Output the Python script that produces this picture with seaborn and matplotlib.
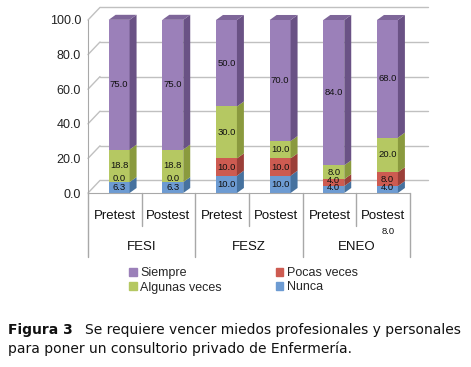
import matplotlib
matplotlib.use("Agg")
import matplotlib.pyplot as plt
from matplotlib.patches import Polygon
import seaborn as sns
import pandas as pd
import numpy as np

# Data
groups = ["FESI", "FESZ", "ENEO"]
tests = ["Pretest", "Postest"]
nunca = [6.3, 6.3, 10.0, 10.0, 4.0, 4.0]
pocas = [0.0, 0.0, 10.0, 10.0, 4.0, 8.0]
algunas = [18.8, 18.8, 30.0, 10.0, 8.0, 20.0]
siempre = [75.0, 75.0, 50.0, 70.0, 84.0, 68.0]
series_names = ["Nunca", "Pocas veces", "Algunas veces", "Siempre"]
front_colors = ["#6d9bd2", "#cd5b51", "#b5c862", "#9b80b9"]
side_colors = ["#46729f", "#9b3f38", "#8a9a3e", "#6a5285"]
top_color = "#7e6699"
yticks = [0, 20, 40, 60, 80, 100]

bars = [f"{g} {t}" for g in groups for t in tests]
df = pd.DataFrame({"bar": bars, "Nunca": nunca, "Pocas veces": pocas,
                   "Algunas veces": algunas, "Siempre": siempre})
cum = df[series_names].cumsum(axis=1)

sns.set_style("white")
plt.rcParams["font.family"] = ["Liberation Sans", "DejaVu Sans"]

W, H = 471, 367
fig = plt.figure(figsize=(W / 100, H / 100), dpi=100)
ax = fig.add_axes([88 / W, 174 / H, 322 / W, 173 / H])

shift = 0.08
ax.set_xlim(-0.5 - shift, 5.5 - shift)
ax.set_ylim(0, 100)
width = 0.39

# back wall grid
gdx, gdy = 0.224, 7.3
for yv in yticks:
    ax.plot([-0.5 - shift, -0.5 - shift + gdx], [yv, yv + gdy], color="#c0c0c0",
            lw=1, clip_on=False, zorder=0)
    ax.plot([-0.5 - shift + gdx, 5.5 - shift + 0.33], [yv + gdy, yv + gdy],
            color="#c0c0c0", lw=1, clip_on=False, zorder=0)

# stacked bars: draw cumulative totals, tallest first
for i in range(3, -1, -1):
    sns.barplot(x=np.arange(6), y=cum[series_names[i]].values, order=range(6),
                color=front_colors[i], width=width, saturation=1, ax=ax,
                native_scale=True, zorder=2, linewidth=0)

# 3D side faces
ddx, ddy = 0.13, 2.9
for k in range(6):
    x1 = k + width / 2
    bottom = 0
    for i, name in enumerate(series_names):
        top = cum.loc[k, name]
        if top > bottom:
            ax.add_patch(Polygon([(x1, bottom), (x1 + ddx, bottom + ddy),
                                  (x1 + ddx, top + ddy), (x1, top)],
                                 closed=True, color=side_colors[i], lw=0,
                                 clip_on=False, zorder=2))
        bottom = top
    x0 = k - width / 2
    ax.add_patch(Polygon([(x0, bottom), (x0 + ddx, bottom + ddy),
                          (x1 + ddx, bottom + ddy), (x1, bottom)],
                         closed=True, color=top_color, lw=0, clip_on=False, zorder=2))

# value labels
for k in range(6):
    bottom = 0
    for name in series_names:
        v = df.loc[k, name]
        top = bottom + v
        y = (bottom + top) / 2
        if v == 0:
            y = bottom + 1.8
        elif v <= 4:
            y = bottom + v * 0.75
        ax.text(k, y, f"{v:.1f}", ha="center", va="center", fontsize=6.8,
                color="#111111", zorder=3)
        bottom = top

ax.text(5.02, -22, "8.0", ha="center", va="center", fontsize=6.8, color="#111111")

# axes
sns.despine(ax=ax, left=False, bottom=False, top=True, right=True)
for s in ["left", "bottom"]:
    ax.spines[s].set_color("#a8a8a8")
ax.set_yticks(yticks)
ax.set_yticklabels([f"{v:.1f}" for v in yticks], fontsize=9, color="#222222")
ax.tick_params(axis="y", length=3, color="#a8a8a8", pad=2)
ax.set_xticks([])
ax.set_xlabel("")
ax.set_ylabel("")

# category labels and dividers
for j in range(7):
    xb = j - 0.5 - shift
    ybot = -37 if j % 2 == 0 else -19
    ax.plot([xb, xb], [0, ybot], color="#a8a8a8", lw=1, clip_on=False)
for k in range(6):
    ax.text(k - shift, -13.5, tests[k % 2], ha="center", va="center", fontsize=9.5,
            color="#111111")
for g, name in enumerate(groups):
    ax.text(2 * g + 0.5 - shift, -31.5, name, ha="center", va="center", fontsize=9.5,
            color="#111111")

# legend
handles = [plt.Rectangle((0, 0), 1, 1, color=front_colors[i]) for i in [3, 2, 1, 0]]
labels = ["Siempre", "Algunas veces", "Pocas veces", "Nunca"]
fig.legend(handles, labels, ncol=2, loc="upper left", bbox_to_anchor=(124 / W, 1 - 262 / H),
           frameon=False, fontsize=9, handlelength=0.6, handleheight=0.6,
           handletextpad=0.3, columnspacing=4.3, labelspacing=0.2, borderaxespad=0)

# caption
cap = fig.text(8 / W, 1 - 330 / H, "Figura 3", fontsize=10, va="center",
               family="DejaVu Sans", weight="bold", color="#111111")
ax.annotate("Se requiere vencer miedos profesionales y personales",
            xy=(1, 0.5), xycoords=cap, xytext=(9, 0), textcoords="offset points",
            va="center", ha="left", fontsize=10, family="DejaVu Sans",
            color="#111111", annotation_clip=False)
fig.text(8 / W, 1 - 349 / H, "para poner un consultorio privado de Enfermería.",
         fontsize=10, va="center", family="DejaVu Sans", color="#111111")

fig.savefig("out.png", dpi=100)
